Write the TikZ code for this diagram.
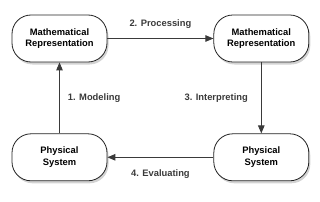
\documentclass[tikz,border=0pt]{standalone}
\usepackage{fontspec}
\setmainfont{Liberation Sans}
\usetikzlibrary{arrows.meta,positioning,shadows}
\definecolor{Edge}{HTML}{222222}
\definecolor{Wire}{HTML}{3A3A3A}

\begin{document}
\begin{tikzpicture}[
  x=1bp,y=1bp,>={Triangle[length=8bp,width=6.5bp]},node distance=71bp and 106bp,
  box/.style={draw=Edge,line width=0.8bp,fill=white,rounded corners=19bp,minimum width=95bp,minimum height=47bp,align=center,
    font=\fontsize{9.4}{11.5}\selectfont\bfseries,drop shadow={shadow xshift=1.5bp,shadow yshift=-2.5bp,opacity=0.35}},
  tag/.style={font=\fontsize{9.4}{11}\selectfont\bfseries,inner sep=0pt}
]
  \useasboundingbox (0,0) rectangle (320,202);
  \node[box] (model) at (59.5,163.5) {Mathematical\\Representation};
  \node[box,right=of model] (result) {Mathematical\\Representation};
  \node[box,below=of model] (world) {Physical\\System};
  \node[box,below=of result] (outcome) {Physical\\System};
  \draw[->,Wire,line width=0.9bp] (world) -- node[tag,right=8bp]{1. Modeling} (model);
  \draw[->,Wire,line width=0.9bp] (model) -- node[tag,above=10bp]{2. Processing} (result);
  \draw[->,Wire,line width=0.9bp] (result) -- node[tag,left=13bp]{3. Interpreting} (outcome);
  \draw[->,Wire,line width=0.9bp] (outcome) -- node[tag,below=12bp]{4. Evaluating} (world);
\end{tikzpicture}
\end{document}
